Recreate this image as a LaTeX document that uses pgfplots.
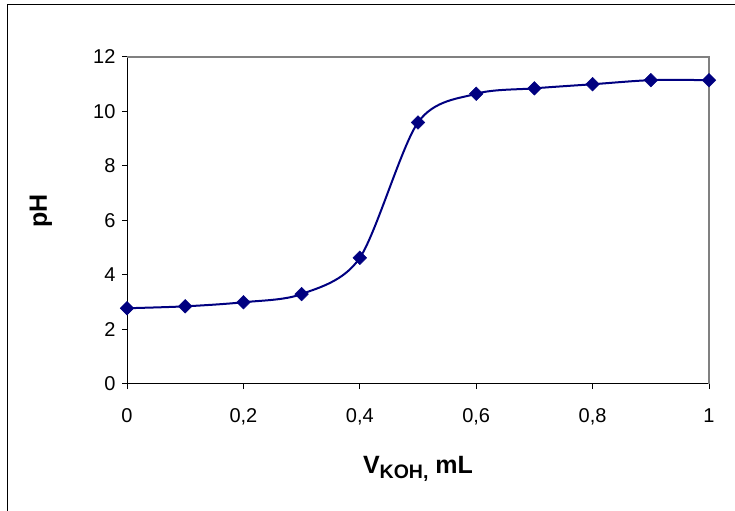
\documentclass[border=0pt]{standalone}
\usepackage{pgfplots}
\pgfplotsset{compat=1.18}
\usepackage{fontspec}
\setmainfont{Liberation Sans}

\definecolor{navyline}{HTML}{000080}
\definecolor{framegray}{HTML}{808080}

\pgfplotstableread{
v    ph
0.0  2.78
0.1  2.85
0.2  3.00
0.3  3.30
0.4  4.63
0.5  9.60
0.6  10.65
0.7  10.85
0.8  11.00
0.9  11.15
1.0  11.15
}\titration

\begin{document}
\begin{tikzpicture}
\useasboundingbox (0,0) rectangle (735bp,511bp);
% chart area frame
\draw[line width=1bp] (7bp,0) -- (7bp,506bp) -- (735bp,506bp);
\begin{axis}[
  at={(127bp,127bp)}, anchor=south west,
  scale only axis, width=582bp, height=327bp,
  xmin=0, xmax=1, ymin=0, ymax=12,
  axis x line*=bottom, axis y line*=left,
  axis line style={line width=1bp, black, -},
  xtick={0,0.2,0.4,0.6,0.8,1},
  ytick={0,2,4,6,8,10,12},
  tick align=outside,
  major tick length=5bp,
  tick style={line width=1bp, black},
  /pgf/number format/assume math mode=true,
  /pgf/number format/use comma,
  xticklabel style={font=\fontsize{20bp}{22bp}\selectfont, anchor=north, yshift=-16bp},
  yticklabel style={font=\fontsize{20bp}{22bp}\selectfont, xshift=-3bp},
  xlabel={\bfseries V\raisebox{-5bp}{\fontsize{19.5bp}{20bp}\selectfont KOH,} mL},
  xlabel style={font=\fontsize{25bp}{27bp}\selectfont,
    at={(axis description cs:0.5,0)}, anchor=base, yshift=-89bp},
  ylabel={pH},
  ylabel style={font=\fontsize{25bp}{27bp}\selectfont\bfseries,
    at={(axis description cs:-0.1478,0.529)}, anchor=center, rotate=0},
  clip=false,
]
\draw[framegray, line width=2bp] (rel axis cs:0,1) -- (rel axis cs:1,1) -- (rel axis cs:1,0);
\addplot[navyline, line width=2bp, smooth, tension=0.5,
  mark=square*, mark size=4.8bp,
  mark options={fill=navyline, draw=navyline, rotate=45, line width=0.5bp}]
  table[x=v, y=ph] {\titration};
\end{axis}
\end{tikzpicture}
\end{document}
